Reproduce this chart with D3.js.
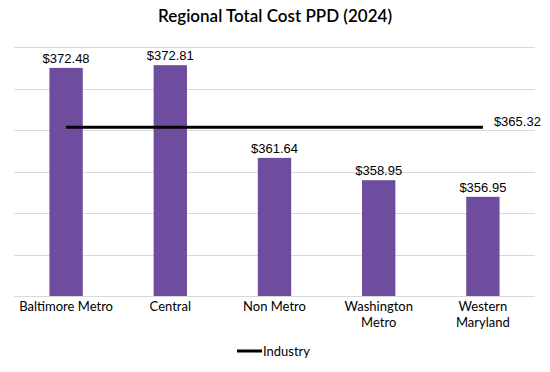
<!DOCTYPE html>
<html>
<meta charset="utf-8">
<head>
<style>
body { margin: 0; background: #fff; }
text { font-family: Lato, "Open Sans", sans-serif; fill: #000; }
.grid line { stroke: #d9d9d9; stroke-width: 1; shape-rendering: crispEdges; }
.xlab text { font-size: 13px; }
.val { font-size: 13px; font-family: "Liberation Sans", Arial, sans-serif; }
.title { font-size: 17px; font-weight: 600; }
</style>
</head>
<body>
<svg width="550" height="372"></svg>
<script src="https://cdn.jsdelivr.net/npm/d3@7"></script>
<script>

var regions = ["Baltimore Metro", "Central", "Non Metro", "Washington Metro", "Western Maryland"];
var regionLines = [["Baltimore Metro"], ["Central"], ["Non Metro"], ["Washington", "Metro"], ["Western", "Maryland"]];
var costs = [372.48, 372.81, 361.64, 358.95, 356.95];
var industry = 365.32;
var yTicks = [345, 350, 355, 360, 365, 370, 375];

var svg = d3.select("svg"),
  plotLeft = 14, plotRight = 535, plotTop = 47, plotBottom = 296;

var x = d3.scaleBand().domain(regions).range([plotLeft, plotRight]).paddingInner(0.68).paddingOuter(0.34);
var y = d3.scaleLinear().domain([345, 375]).range([plotBottom, plotTop]);

// gridlines
svg.append("g").attr("class", "grid")
  .selectAll("line").data(yTicks).enter().append("line")
  .attr("x1", plotLeft).attr("x2", plotRight)
  .attr("y1", function(d) { return Math.round(y(d)) + 0.5; })
  .attr("y2", function(d) { return Math.round(y(d)) + 0.5; });

svg.append("text").attr("class", "title")
  .attr("x", 275).attr("y", 22).attr("text-anchor", "middle")
  .text("Regional Total Cost PPD (2024)");

// bars
svg.append("g").selectAll("rect").data(costs).enter().append("rect")
  .attr("x", function(d, i) { return x(regions[i]); })
  .attr("width", x.bandwidth())
  .attr("y", function(d) { return y(d); })
  .attr("height", function(d) { return plotBottom - y(d); })
  .attr("fill", "#6e4c9e");

svg.append("g").selectAll("text").data(costs).enter().append("text")
  .attr("class", "val")
  .attr("x", function(d, i) { return x(regions[i]) + x.bandwidth() / 2; })
  .attr("y", function(d) { return y(d) - 5; })
  .attr("text-anchor", "middle")
  .text(function(d) { return "$" + d.toFixed(2); });

// industry line
var x0 = x(regions[0]) + x.bandwidth() / 2,
  x1 = x(regions[regions.length - 1]) + x.bandwidth() / 2;
svg.append("line")
  .attr("x1", x0).attr("x2", x1)
  .attr("y1", y(industry)).attr("y2", y(industry))
  .attr("stroke", "#000").attr("stroke-width", 3);
svg.append("text").attr("class", "val")
  .attr("x", x1 + 11).attr("y", y(industry) - 1)
  .text("$" + industry.toFixed(2));

// category labels
var lab = svg.append("g").attr("class", "xlab").selectAll("text").data(regionLines).enter().append("text")
  .attr("x", function(d, i) { return x(regions[i]) + x.bandwidth() / 2; })
  .attr("y", 311)
  .attr("text-anchor", "middle");
lab.selectAll("tspan").data(function(d) { return d; }).enter().append("tspan")
  .attr("x", function() { return d3.select(this.parentNode).attr("x"); })
  .attr("dy", function(d, i) { return i ? 16 : 0; })
  .text(function(d) { return d; });

// legend
svg.append("line").attr("x1", 237).attr("x2", 262).attr("y1", 351).attr("y2", 351)
  .attr("stroke", "#000").attr("stroke-width", 3);
svg.append("text").attr("x", 263).attr("y", 356)
  .style("font-size", "13px").text("Industry");

</script>
</body>
</html>
